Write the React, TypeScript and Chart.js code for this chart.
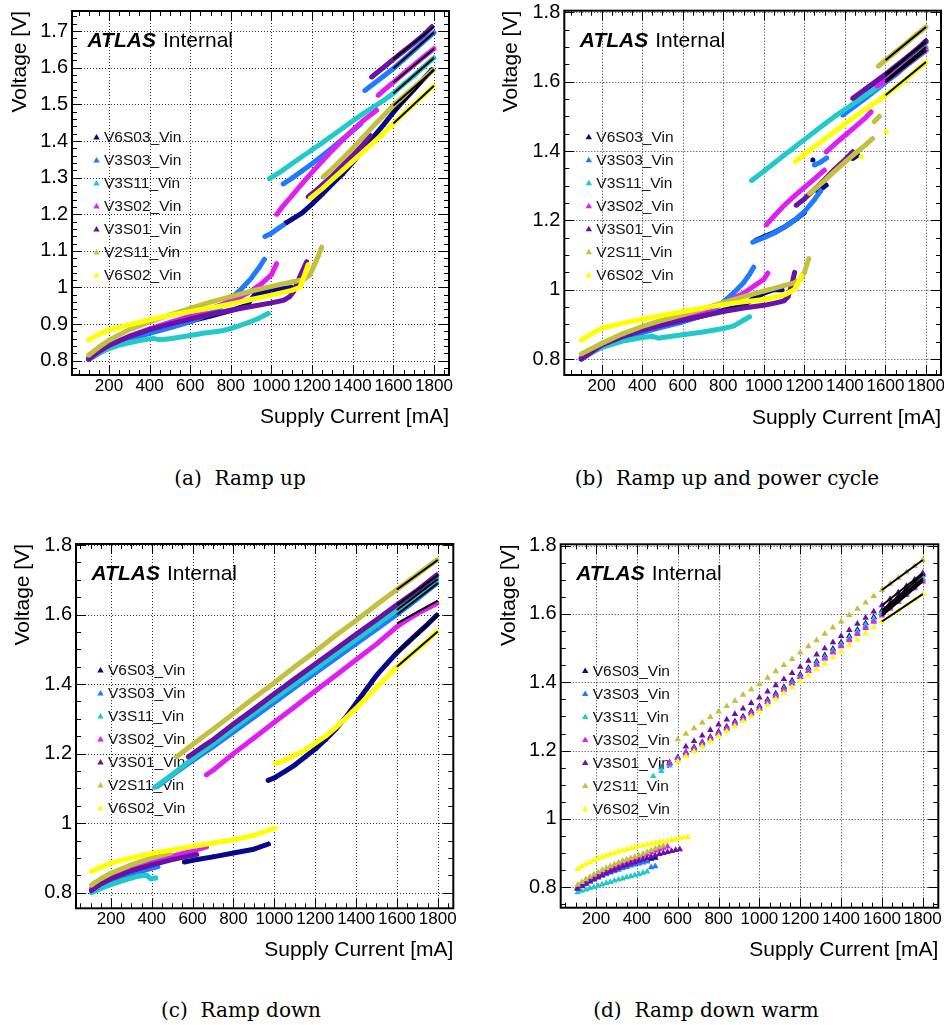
import React, { useEffect, useRef } from 'react';
import { Chart, registerables } from 'chart.js';

Chart.register(...registerables);
Chart.defaults.font.family = '"Liberation Sans", Arial, Helvetica, sans-serif';
Chart.defaults.color = '#000';

type P = [number, number] | null;

// ---------------- shared labels / styles ----------------
const SERIES = ['V6S03_Vin', 'V3S03_Vin', 'V3S11_Vin', 'V3S02_Vin', 'V3S01_Vin', 'V2S11_Vin', 'V6S02_Vin'];
const COLORS = ['#08088a', '#1f7bff', '#21c9c9', '#df1ff2', '#6b12a6', '#c2c13f', '#ffff00'];
const X_TICKS = [200, 400, 600, 800, 1000, 1200, 1400, 1600, 1800];
const X_LABELS = ['200', '400', '600', '800', '1000', '1200', '1400', '1600', '1800'];
const X_MINOR = 50;
const FIT_X = [1600, 1800];
const A_Y_TICKS = [0.8, 0.9, 1, 1.1, 1.2, 1.3, 1.4, 1.5, 1.6, 1.7];
const A_Y_LABELS = ['0.8', '0.9', '1', '1.1', '1.2', '1.3', '1.4', '1.5', '1.6', '1.7'];
const Y_TICKS = [0.8, 1, 1.2, 1.4, 1.6, 1.8];
const Y_LABELS = ['0.8', '1', '1.2', '1.4', '1.6', '1.8'];
const X_TITLE = 'Supply Current [mA]';
const Y_TITLE = 'Voltage [V]';
const CAPTIONS = ['(a)  Ramp up', '(b)  Ramp up and power cycle', '(c)  Ramp down', '(d)  Ramp down warm'];

// ---------------- (a) Ramp up ----------------
const A_V6S03: P[] = [[100,0.805],[150,0.822],[200,0.838],[300,0.86],[400,0.877],[500,0.893],[600,0.908],[700,0.922],[800,0.937],[880,0.952],[920,0.982],[1000,0.99],[1060,0.998],[1100,1.0],
  null,[1070,1.176],[1100,1.186],[1150,1.203],[1200,1.228],[1250,1.255],[1300,1.283],[1350,1.31],[1400,1.342],[1450,1.375],[1500,1.41],[1550,1.443],[1600,1.478],[1650,1.51],[1700,1.54],[1750,1.57],[1790,1.595]];
const A_V3S03: P[] = [[100,0.803],[150,0.82],[200,0.835],[300,0.858],[400,0.875],[500,0.89],[600,0.906],[700,0.93],[750,0.947],[800,0.97],[850,0.995],[900,1.025],[940,1.055],[965,1.077],
  null,[968,1.139],[1000,1.148],[1030,1.16],[1058,1.17],
  null,[1058,1.283],[1100,1.298],[1150,1.318],[1200,1.338],[1250,1.36],[1300,1.382],[1350,1.405],[1400,1.428],[1440,1.447],
  null,[1460,1.538],[1500,1.555],[1550,1.576],[1600,1.598],[1650,1.622],[1700,1.647],[1750,1.672],[1800,1.696]];
const A_V3S11: P[] = [[100,0.806],[150,0.822],[200,0.833],[254,0.843],[300,0.849],[350,0.855],[418,0.861],[451,0.857],[500,0.86],[600,0.869],[664,0.875],[750,0.881],[800,0.888],[829,0.893],[880,0.903],[930,0.914],[984,0.929],
  null,[990,1.297],[1050,1.318],[1100,1.338],[1150,1.357],[1200,1.376],[1250,1.395],[1300,1.415],[1350,1.435],[1400,1.455],[1450,1.474],[1500,1.492],[1550,1.51],[1600,1.53],[1650,1.555],[1700,1.578],[1750,1.603],[1800,1.627]];
const A_V3S02: P[] = [[100,0.808],[150,0.826],[200,0.842],[300,0.867],[400,0.887],[500,0.905],[600,0.922],[700,0.942],[800,0.962],[850,0.975],[900,0.99],[950,1.01],[1000,1.035],[1025,1.065],
  null,[1026,1.2],[1050,1.218],[1100,1.25],[1150,1.283],[1200,1.315],[1250,1.345],[1300,1.375],[1350,1.403],[1400,1.43],[1450,1.455],[1518,1.484],
  null,[1526,1.525],[1550,1.537],[1600,1.56],[1650,1.584],[1700,1.607],[1750,1.63],[1800,1.652]];
const A_V3S01: P[] = [[100,0.805],[150,0.825],[200,0.842],[300,0.866],[400,0.885],[500,0.9],[600,0.914],[700,0.927],[800,0.938],[900,0.948],[1000,0.958],[1060,0.965],[1090,0.975],[1110,0.99],[1140,1.03],[1173,1.07],
  null,[1181,1.248],[1220,1.265],[1260,1.285],[1300,1.305],[1350,1.333],[1400,1.36],[1450,1.39],[1485,1.416],
  null,[1493,1.575],[1550,1.6],[1600,1.623],[1650,1.645],[1700,1.667],[1750,1.69],[1790,1.712]];
const A_V2S11: P[] = [[100,0.815],[150,0.837],[200,0.856],[300,0.885],[400,0.906],[500,0.925],[600,0.943],[700,0.96],[800,0.975],[900,0.99],[1000,1.003],[1100,1.015],[1160,1.022],[1190,1.035],[1210,1.06],[1230,1.085],[1247,1.11],
  null,[1255,1.302],[1300,1.325],[1350,1.352],[1400,1.38],[1450,1.41],[1500,1.44],[1550,1.468],[1600,1.497],[1650,1.522],[1700,1.546],[1750,1.57],[1797,1.594]];
const A_V6S02: P[] = [[100,0.857],[150,0.872],[200,0.884],[300,0.898],[400,0.912],[500,0.924],[600,0.934],[700,0.944],[800,0.955],[900,0.967],[1000,0.979],[1100,0.992],[1140,1.0],[1160,1.03],[1180,1.062],
  null,[1190,1.243],[1250,1.27],[1300,1.295],[1350,1.32],[1400,1.345],[1450,1.37],[1500,1.395],[1550,1.42],[1600,1.448],[1650,1.475],[1700,1.5],[1750,1.525],[1797,1.55]];
const A_FITS: [number, number][] = [[1.478,1.596],[1.598,1.696],[1.53,1.627],[1.56,1.652],[1.623,1.712],[1.497,1.594],[1.448,1.551]];

// ---------------- (b) Ramp up and power cycle ----------------
const B_V6S03: P[] = [[100,0.802],[200,0.84],[300,0.862],[400,0.88],[500,0.895],[600,0.91],[700,0.925],[800,0.94],[900,0.955],[950,0.975],[1000,0.99],[1050,1.0],[1090,1.0],
  null,[960,1.142],[1000,1.153],[1050,1.165],[1100,1.18],[1150,1.2],[1200,1.222],
  null,[1242,1.374],null,[1267,1.283],[1308,1.302],null,[1439,1.379],[1464,1.388],
  null,[1500,1.578],[1550,1.598],[1600,1.617],[1650,1.64],[1700,1.665],[1750,1.69],[1800,1.718]];
const B_V3S03: P[] = [[100,0.8],[200,0.838],[300,0.86],[400,0.876],[500,0.892],[600,0.907],[700,0.925],[750,0.94],[800,0.965],[850,0.99],[900,1.02],[930,1.045],[950,1.065],
  null,[946,1.137],[1000,1.15],[1050,1.163],[1100,1.18],[1150,1.2],[1200,1.225],[1250,1.26],[1280,1.285],
  null,[1250,1.36],[1280,1.368],[1310,1.38],
  null,[1390,1.504],[1450,1.53],[1500,1.552],[1550,1.575],[1600,1.598],[1650,1.62],[1700,1.645],[1750,1.668],[1800,1.69]];
const B_V3S11: P[] = [[100,0.8],[150,0.818],[200,0.833],[300,0.851],[400,0.862],[450,0.866],[480,0.86],[500,0.862],[600,0.87],[700,0.878],[800,0.888],[850,0.895],[900,0.912],[930,0.922],
  null,[940,1.315],[1000,1.342],[1050,1.365],[1100,1.388],[1150,1.41],[1200,1.433],[1250,1.456],[1300,1.478],[1350,1.5],[1400,1.52],[1450,1.54],[1500,1.56],[1550,1.58],[1600,1.603],[1650,1.627],[1700,1.651],[1750,1.675],[1800,1.7]];
const B_V3S02: P[] = [[100,0.805],[200,0.843],[300,0.868],[400,0.888],[500,0.904],[600,0.92],[700,0.938],[800,0.96],[850,0.975],[900,0.99],[950,1.01],[1000,1.03],[1020,1.048],
  null,[1012,1.187],[1050,1.212],[1100,1.243],[1150,1.27],[1200,1.295],[1250,1.32],[1299,1.345],
  null,[1308,1.398],[1350,1.42],[1400,1.445],[1450,1.47],[1500,1.495],[1529,1.513],
  null,[1560,1.588],[1600,1.602],[1650,1.625],[1700,1.648],[1750,1.67],[1800,1.692]];
const B_V3S01: P[] = [[100,0.8],[200,0.84],[300,0.864],[400,0.883],[500,0.898],[600,0.912],[700,0.925],[800,0.937],[900,0.947],[1000,0.955],[1060,0.962],[1100,0.968],[1120,0.98],[1140,1.02],[1152,1.05],
  null,[1160,1.244],[1200,1.262],[1250,1.29],[1300,1.318],[1350,1.348],[1400,1.375],[1439,1.398],
  null,[1439,1.552],[1500,1.578],[1550,1.6],[1600,1.622],[1650,1.645],[1700,1.668],[1750,1.692],[1800,1.715]];
const B_V2S11: P[] = [[100,0.815],[200,0.845],[300,0.872],[400,0.894],[500,0.912],[600,0.928],[700,0.945],[800,0.963],[900,0.98],[1000,0.996],[1100,1.012],[1150,1.02],[1180,1.03],[1200,1.05],[1222,1.09],
  null,[1226,1.278],[1300,1.315],[1350,1.342],[1400,1.368],[1450,1.393],[1500,1.417],[1537,1.436],
  null,[1545,1.485],[1570,1.5],
  null,[1565,1.645],[1600,1.662],[1650,1.686],[1700,1.71],[1750,1.735],[1800,1.758]];
const B_V6S02: P[] = [[100,0.855],[200,0.889],[300,0.903],[400,0.915],[500,0.926],[600,0.937],[700,0.947],[800,0.957],[900,0.965],[1000,0.972],[1100,0.985],[1150,1.0],[1170,1.02],[1185,1.04],
  null,[1155,1.369],[1200,1.39],[1250,1.413],[1300,1.435],[1350,1.457],[1400,1.479],[1450,1.5],[1500,1.52],[1550,1.54],[1600,1.561],[1650,1.583],[1700,1.606],[1750,1.632],[1800,1.657],
  null,[1480,1.384],null,[1603,1.456]];
const B_FITS: [number, number][] = [[1.617,1.718],[1.598,1.69],[1.603,1.7],[1.602,1.692],[1.622,1.715],[1.662,1.758],[1.561,1.657]];

// ---------------- (c) Ramp down ----------------
const C_V6S03: P[] = [[560,0.888],[600,0.893],[700,0.903],[800,0.914],[900,0.925],[971,0.94],
  null,[970,1.123],[1000,1.13],[1050,1.148],[1100,1.167],[1150,1.19],[1200,1.213],[1250,1.24],[1300,1.27],[1350,1.305],[1400,1.345],[1450,1.385],[1500,1.425],[1550,1.458],[1600,1.49],[1650,1.518],[1700,1.545],[1750,1.572],[1795,1.598]];
const C_V3S03: P[] = [[105,0.803],[150,0.82],[200,0.832],[300,0.853],[380,0.867],[430,0.875],
  null,[425,1.105],[500,1.138],[600,1.18],[700,1.22],[800,1.262],[900,1.305],[1000,1.347],[1100,1.39],[1200,1.432],[1300,1.474],[1400,1.516],[1500,1.558],[1600,1.6],[1700,1.645],[1795,1.69]];
const C_V3S11: P[] = [[105,0.8],[150,0.812],[200,0.823],[250,0.833],[300,0.842],[330,0.847],[375,0.85],[395,0.84],[420,0.842],
  null,[415,1.103],[500,1.14],[600,1.185],[700,1.228],[800,1.272],[900,1.316],[1000,1.358],[1100,1.4],[1200,1.443],[1300,1.486],[1400,1.528],[1500,1.57],[1600,1.613],[1700,1.657],[1795,1.702]];
const C_V3S02: P[] = [[105,0.812],[150,0.83],[200,0.845],[300,0.868],[400,0.887],[500,0.905],[600,0.92],[668,0.932],
  null,[668,1.139],[700,1.152],[800,1.2],[900,1.245],[1000,1.29],[1100,1.335],[1200,1.38],[1300,1.425],[1400,1.47],[1500,1.515],[1600,1.565],[1650,1.585],[1700,1.603],[1750,1.618],[1795,1.632]];
const C_V3S01: P[] = [[105,0.806],[150,0.825],[200,0.84],[300,0.863],[400,0.88],[500,0.895],[580,0.905],[620,0.91],
  null,[579,1.191],[650,1.22],[700,1.24],[800,1.285],[900,1.328],[1000,1.372],[1100,1.415],[1200,1.458],[1300,1.5],[1400,1.543],[1500,1.585],[1600,1.628],[1700,1.67],[1795,1.714]];
const C_V2S11: P[] = [[105,0.822],[150,0.84],[200,0.856],[300,0.88],[400,0.9],[490,0.914],
  null,[522,1.191],[600,1.226],[700,1.27],[800,1.315],[900,1.36],[1000,1.404],[1100,1.45],[1200,1.494],[1300,1.54],[1400,1.583],[1500,1.628],[1600,1.672],[1700,1.715],[1795,1.757]];
const C_V6S02: P[] = [[105,0.861],[150,0.873],[200,0.885],[300,0.9],[400,0.913],[500,0.923],[600,0.933],[700,0.943],[800,0.952],[900,0.965],[1003,0.986],
  null,[1005,1.172],[1050,1.18],[1100,1.195],[1150,1.21],[1200,1.23],[1250,1.25],[1300,1.275],[1350,1.302],[1400,1.33],[1450,1.36],[1500,1.39],[1550,1.42],[1600,1.45],[1650,1.475],[1700,1.5],[1750,1.525],[1795,1.551]];
const C_FITS: [number, number][] = [[1.49,1.598],[1.6,1.69],[1.613,1.702],[1.575,1.64],[1.628,1.714],[1.672,1.757],[1.45,1.551]];

// ---------------- (d) Ramp down warm ----------------
const D_LOW_X = [110,130,150,170,190,210,230,250,270,290,310,330,350,370,390,410,430,450,470,490,510,530,550,570,590,610,630,650];
const D_UP_X = [480,520,560,600,640,680,720,760,800,840,880,920,960,1000,1040,1080,1120,1160,1200,1240,1280,1320,1360,1400,1440,1480,1520,1560,1600,1640,1680,1720,1760,1800];
const _ = null;
const D_LOW_V6S03 = [0.798,0.806,0.813,0.82,0.826,0.832,0.837,0.842,0.847,0.852,0.856,0.86,0.864,0.868,0.871,0.874,0.877,0.88,0.883,0.886,_,_,_,_,_,_,_,_];
const D_LOW_V3S03 = [0.795,0.803,0.81,0.816,0.822,0.828,0.833,0.838,0.843,0.847,0.851,0.855,0.859,0.863,0.866,0.869,0.872,0.875,0.858,0.861,_,_,_,_,_,_,_,_];
const D_LOW_V3S11 = [0.785,0.789,0.793,0.797,0.8,0.804,0.808,0.812,0.815,0.819,0.822,0.825,0.829,0.832,0.835,0.838,0.842,0.846,_,_,_,_,_,_,_,_,_,_];
const D_LOW_V3S02 = [0.802,0.81,0.817,0.824,0.83,0.836,0.842,0.848,0.853,0.858,0.863,0.868,0.872,0.877,0.882,0.887,0.892,0.897,0.902,0.907,0.911,0.915,0.919,_,_,_,_,_];
const D_LOW_V3S01 = [0.795,0.803,0.81,0.817,0.823,0.829,0.835,0.841,0.846,0.851,0.856,0.861,0.865,0.869,0.873,0.877,0.881,0.885,0.889,0.893,0.897,0.9,0.903,0.906,0.909,0.911,_,_];
const D_LOW_V2S11 = [0.807,0.815,0.823,0.83,0.837,0.844,0.85,0.856,0.862,0.867,0.872,0.877,0.881,0.885,0.889,0.893,0.898,0.903,0.908,0.913,0.918,0.922,_,_,_,_,_,_];
const D_LOW_V6S02 = [0.853,0.861,0.867,0.873,0.879,0.884,0.888,0.893,0.897,0.9,0.904,0.907,0.91,0.914,0.917,0.92,0.922,0.925,0.927,0.93,0.932,0.934,0.936,0.938,0.941,0.943,0.945,0.947];
const D_UP_V6S03 = [_,_,1.165,1.18,1.195,1.21,1.225,1.24,1.255,1.27,1.285,1.3,1.315,1.33,1.349,1.367,1.386,1.405,1.423,1.442,1.461,1.479,1.498,1.517,1.535,1.554,1.573,1.591,1.61,1.631,1.652,1.673,1.694,1.715];
const D_UP_V3S03 = [_,1.15,1.164,1.179,1.193,1.207,1.222,1.236,1.25,1.265,1.279,1.293,1.308,1.322,1.341,1.359,1.378,1.396,1.415,1.433,1.452,1.47,1.489,1.507,1.526,1.544,1.563,1.581,1.6,1.62,1.64,1.66,1.68,1.7];
const D_UP_V3S11 = [1.125,1.14,1.156,1.171,1.187,1.202,1.217,1.233,1.248,1.263,1.279,1.294,1.31,1.325,1.344,1.362,1.381,1.4,1.418,1.437,1.456,1.474,1.493,1.512,1.53,1.549,1.568,1.586,1.605,1.625,1.645,1.665,1.685,1.705];
const D_UP_V3S02 = [_,_,1.162,1.177,1.192,1.206,1.221,1.236,1.251,1.266,1.281,1.295,1.31,1.325,1.343,1.361,1.379,1.397,1.415,1.433,1.451,1.469,1.487,1.505,1.523,1.541,1.559,1.577,1.595,1.615,1.635,1.655,1.675,1.695];
const D_UP_V3S01 = [_,_,_,_,1.212,1.228,1.244,1.26,1.276,1.291,1.307,1.323,1.339,1.355,1.373,1.391,1.409,1.427,1.445,1.463,1.481,1.499,1.517,1.535,1.553,1.571,1.589,1.607,1.625,1.644,1.663,1.682,1.701,1.72];
const D_UP_V2S11 = [_,_,_,1.233,1.249,1.265,1.282,1.298,1.314,1.33,1.346,1.363,1.379,1.395,1.413,1.432,1.45,1.468,1.487,1.505,1.523,1.542,1.56,1.578,1.597,1.615,1.633,1.652,1.67,1.688,1.705,1.723,1.74,1.758];
const D_UP_V6S02 = [_,_,_,1.168,1.183,1.197,1.212,1.227,1.242,1.256,1.271,1.286,1.3,1.315,1.333,1.35,1.368,1.385,1.403,1.42,1.438,1.455,1.473,1.49,1.508,1.525,1.543,1.56,1.578,1.594,1.61,1.626,1.642,1.658];
const D_FITS: [number, number][] = [[1.61,1.715],[1.6,1.7],[1.605,1.705],[1.595,1.695],[1.625,1.72],[1.67,1.758],[1.578,1.658]];

// ---------------- helpers ----------------
type XY = { x: number; y: number | null };
function toXY(s: P[]): XY[] {
  const out: XY[] = [];
  let lastX = 0;
  for (const p of s) {
    if (p) { out.push({ x: p[0], y: p[1] }); lastX = p[0]; }
    else out.push({ x: lastX, y: null });
  }
  return out;
}
function gridXY(xs: number[], ys: (number | null)[]): XY[] {
  return xs.map((x, i) => ({ x, y: ys[i] }));
}

const W = 470;
const H = 460;
const FONT = '"Liberation Sans", Arial, Helvetica, sans-serif';

interface Panel {
  left: number; top: number;
  ca: [number, number, number, number];
  xRange: [number, number]; yRange: [number, number];
  yTicks: number[]; yLabels: string[]; yMinor: number;
  data: XY[][]; fits: [number, number][]; markersOnly: boolean;
  yTitleX: number; xTitleY: number;
}

const PANELS: Panel[] = [
  {
    left: 0, top: 0, ca: [72, 11, 449, 375], xRange: [18, 1874], yRange: [0.761, 1.755],
    yTicks: A_Y_TICKS, yLabels: A_Y_LABELS, yMinor: 0.02,
    data: [A_V6S03, A_V3S03, A_V3S11, A_V3S02, A_V3S01, A_V2S11, A_V6S02].map(toXY),
    fits: A_FITS, markersOnly: false, yTitleX: 20.7, xTitleY: 417,
  },
  {
    left: 474, top: 0, ca: [90.3, 10.7, 467.7, 375], xRange: [16, 1874], yRange: [0.754, 1.805],
    yTicks: Y_TICKS, yLabels: Y_LABELS, yMinor: 0.05,
    data: [B_V6S03, B_V3S03, B_V3S11, B_V3S02, B_V3S01, B_V2S11, B_V6S02].map(toXY),
    fits: B_FITS, markersOnly: false, yTitleX: 37.7, xTitleY: 418,
  },
  {
    left: 0, top: 520, ca: [76, 24, 453.3, 388.3], xRange: [29, 1876], yRange: [0.755, 1.803],
    yTicks: Y_TICKS, yLabels: Y_LABELS, yMinor: 0.05,
    data: [C_V6S03, C_V3S03, C_V3S11, C_V3S02, C_V3S01, C_V2S11, C_V6S02].map(toXY),
    fits: C_FITS, markersOnly: false, yTitleX: 23.3, xTitleY: 430,
  },
  {
    left: 474, top: 520, ca: [86.7, 24.3, 464.3, 387.7], xRange: [27, 1876], yRange: [0.74, 1.804],
    yTicks: Y_TICKS, yLabels: Y_LABELS, yMinor: 0.05,
    data: [
      [D_LOW_V6S03, D_UP_V6S03], [D_LOW_V3S03, D_UP_V3S03], [D_LOW_V3S11, D_UP_V3S11], [D_LOW_V3S02, D_UP_V3S02],
      [D_LOW_V3S01, D_UP_V3S01], [D_LOW_V2S11, D_UP_V2S11], [D_LOW_V6S02, D_UP_V6S02],
    ].map(([lo, up]) => [...gridXY(D_LOW_X, lo), ...gridXY(D_UP_X, up)]),
    fits: D_FITS, markersOnly: true, yTitleX: 35.3, xTitleY: 430,
  },
];

const CAPTION_POS = [
  { cx: 240, cy: 478 },
  { cx: 727, cy: 478 },
  { cx: 241, cy: 1010 },
  { cx: 706, cy: 1010 },
];

function makeDeco(p: Panel) {
  return {
    id: 'rootDeco',
    beforeDatasetsDraw(chart: any) {
      const { ctx, chartArea: ca, scales } = chart;
      const xs = scales.x, ys = scales.y;
      ctx.save();
      // dotted grid at major ticks
      ctx.strokeStyle = '#333';
      ctx.lineWidth = 1;
      ctx.setLineDash([1, 2]);
      ctx.beginPath();
      for (const v of X_TICKS) {
        const px = Math.round(xs.getPixelForValue(v)) + 0.5;
        ctx.moveTo(px, ca.top); ctx.lineTo(px, ca.bottom);
      }
      for (const v of p.yTicks) {
        const py = Math.round(ys.getPixelForValue(v)) + 0.5;
        ctx.moveTo(ca.left, py); ctx.lineTo(ca.right, py);
      }
      ctx.stroke();
      ctx.setLineDash([]);
      // ATLAS label
      ctx.fillStyle = '#000';
      ctx.textBaseline = 'alphabetic';
      ctx.textAlign = 'left';
      const ax = ca.left + 15.5, ay = ca.top + 36;
      ctx.font = `italic bold 21px ${FONT}`;
      ctx.fillText('ATLAS', ax, ay);
      const w = ctx.measureText('ATLAS').width;
      ctx.font = `21px ${FONT}`;
      ctx.fillText('Internal', ax + w + 7, ay);
      // legend
      ctx.font = `15.5px ${FONT}`;
      ctx.textBaseline = 'middle';
      SERIES.forEach((name, i) => {
        const ly = ca.top + 126.6 + i * 23;
        const lx = ca.left + 24.5;
        ctx.fillStyle = COLORS[i];
        ctx.beginPath();
        ctx.moveTo(lx, ly - 3.5);
        ctx.lineTo(lx + 3.2, ly + 2);
        ctx.lineTo(lx - 3.2, ly + 2);
        ctx.closePath();
        ctx.fill();
        ctx.fillStyle = '#111';
        ctx.fillText(name, ca.left + 32, ly + 0.5);
      });
      ctx.restore();
    },
    afterDatasetsDraw(chart: any) {
      const { ctx, chartArea: ca, scales } = chart;
      const xs = scales.x, ys = scales.y;
      ctx.save();
      ctx.strokeStyle = '#000';
      ctx.lineWidth = 1;
      ctx.beginPath();
      for (let v = Math.ceil(xs.min / X_MINOR) * X_MINOR; v <= xs.max; v += X_MINOR) {
        const len = X_TICKS.includes(v) ? 10 : 5;
        const px = Math.round(xs.getPixelForValue(v)) + 0.5;
        ctx.moveTo(px, ca.bottom); ctx.lineTo(px, ca.bottom - len);
        ctx.moveTo(px, ca.top); ctx.lineTo(px, ca.top + len);
      }
      const st = p.yMinor;
      for (let k = Math.ceil(ys.min / st - 1e-9); k * st <= ys.max + 1e-9; k++) {
        const v = k * st;
        const len = p.yTicks.some((t) => Math.abs(t - v) < 1e-6) ? 10 : 5;
        const py = Math.round(ys.getPixelForValue(v)) + 0.5;
        ctx.moveTo(ca.left, py); ctx.lineTo(ca.left + len, py);
        ctx.moveTo(ca.right, py); ctx.lineTo(ca.right - len, py);
      }
      ctx.stroke();
      ctx.lineWidth = 2;
      ctx.strokeRect(ca.left, ca.top, ca.right - ca.left, ca.bottom - ca.top);
      ctx.restore();
    },
  };
}

function buildConfig(p: Panel): any {
  const datasets: any[] = [];
  p.data.forEach((d, i) => {
    datasets.push({
      type: 'line',
      label: SERIES[i],
      data: d,
      showLine: !p.markersOnly,
      spanGaps: false,
      borderColor: COLORS[i],
      backgroundColor: COLORS[i],
      borderWidth: p.markersOnly ? 0 : 5,
      borderJoinStyle: 'round',
      borderCapStyle: 'round',
      tension: 0,
      pointStyle: 'triangle',
      pointRadius: p.markersOnly ? 3.8 : 3,
      pointBorderWidth: 0,
      pointBackgroundColor: COLORS[i],
      pointHoverRadius: 0,
      order: 20 - i,
    });
  });
  p.fits.forEach((f) => {
    datasets.push({
      type: 'line',
      label: 'fit',
      data: [{ x: FIT_X[0], y: f[0] }, { x: FIT_X[1], y: f[1] }],
      borderColor: '#000',
      borderWidth: 2,
      pointRadius: 0,
      order: 0,
    });
  });
  const [L, T, R, B] = p.ca;
  return {
    type: 'line',
    data: { datasets },
    options: {
      responsive: false,
      animation: false,
      events: [],
      layout: { padding: { left: 0, top: T, right: W - R, bottom: 0 } },
      plugins: { legend: { display: false }, tooltip: { enabled: false } },
      scales: {
        x: {
          type: 'linear',
          min: p.xRange[0],
          max: p.xRange[1],
          grid: { display: false, drawTicks: false },
          border: { display: false },
          afterBuildTicks: (s: any) => { s.ticks = X_TICKS.map((v) => ({ value: v })); },
          afterFit: (s: any) => { s.height = H - B; s.paddingLeft = 0; s.paddingRight = 0; },
          ticks: {
            autoSkip: false, maxRotation: 0, minRotation: 0, padding: 1,
            font: { size: 17, family: FONT }, color: '#000',
            callback: (_v: any, i: number) => X_LABELS[i],
          },
          title: {
            display: true, text: X_TITLE, align: 'end', color: '#000',
            font: { size: 21, family: FONT },
            padding: { top: 0, bottom: H - 12.6 - p.xTitleY },
          },
        },
        y: {
          type: 'linear',
          min: p.yRange[0],
          max: p.yRange[1],
          grid: { display: false, drawTicks: false },
          border: { display: false },
          afterBuildTicks: (s: any) => { s.ticks = p.yTicks.map((v) => ({ value: v })); },
          afterFit: (s: any) => { s.width = L; s.paddingTop = 0; s.paddingBottom = 0; },
          ticks: {
            autoSkip: false, padding: 4,
            font: { size: 20, family: FONT }, color: '#000',
            callback: (_v: any, i: number) => p.yLabels[i],
          },
          title: {
            display: true, text: Y_TITLE, align: 'end', color: '#000',
            font: { size: 21, family: FONT },
            padding: { top: p.yTitleX - 12.6, bottom: 0 },
          },
        },
      },
    },
    plugins: [makeDeco(p)],
  };
}

function PanelChart({ p }: { p: Panel }) {
  const ref = useRef<HTMLCanvasElement>(null);
  useEffect(() => {
    const chart = new Chart(ref.current as HTMLCanvasElement, buildConfig(p));
    return () => chart.destroy();
  }, [p]);
  return (
    <canvas
      ref={ref}
      width={W}
      height={H}
      style={{ position: 'absolute', left: p.left, top: p.top, width: W, height: H }}
    />
  );
}

export default function App() {
  return (
    <div style={{ position: 'absolute', left: 0, top: 0, width: 944, height: 1025, background: '#fff', overflow: 'hidden' }}>
      {PANELS.map((p, i) => <PanelChart key={i} p={p} />)}
      {CAPTIONS.map((c, i) => (
        <div
          key={c}
          style={{
            position: 'absolute', left: CAPTION_POS[i].cx - 250, top: CAPTION_POS[i].cy - 14, width: 500, height: 28,
            lineHeight: '28px', textAlign: 'center', whiteSpace: 'pre',
            fontFamily: '"DejaVu Serif", serif', fontSize: 20, color: '#000',
          }}
        >
          {c}
        </div>
      ))}
    </div>
  );
}
